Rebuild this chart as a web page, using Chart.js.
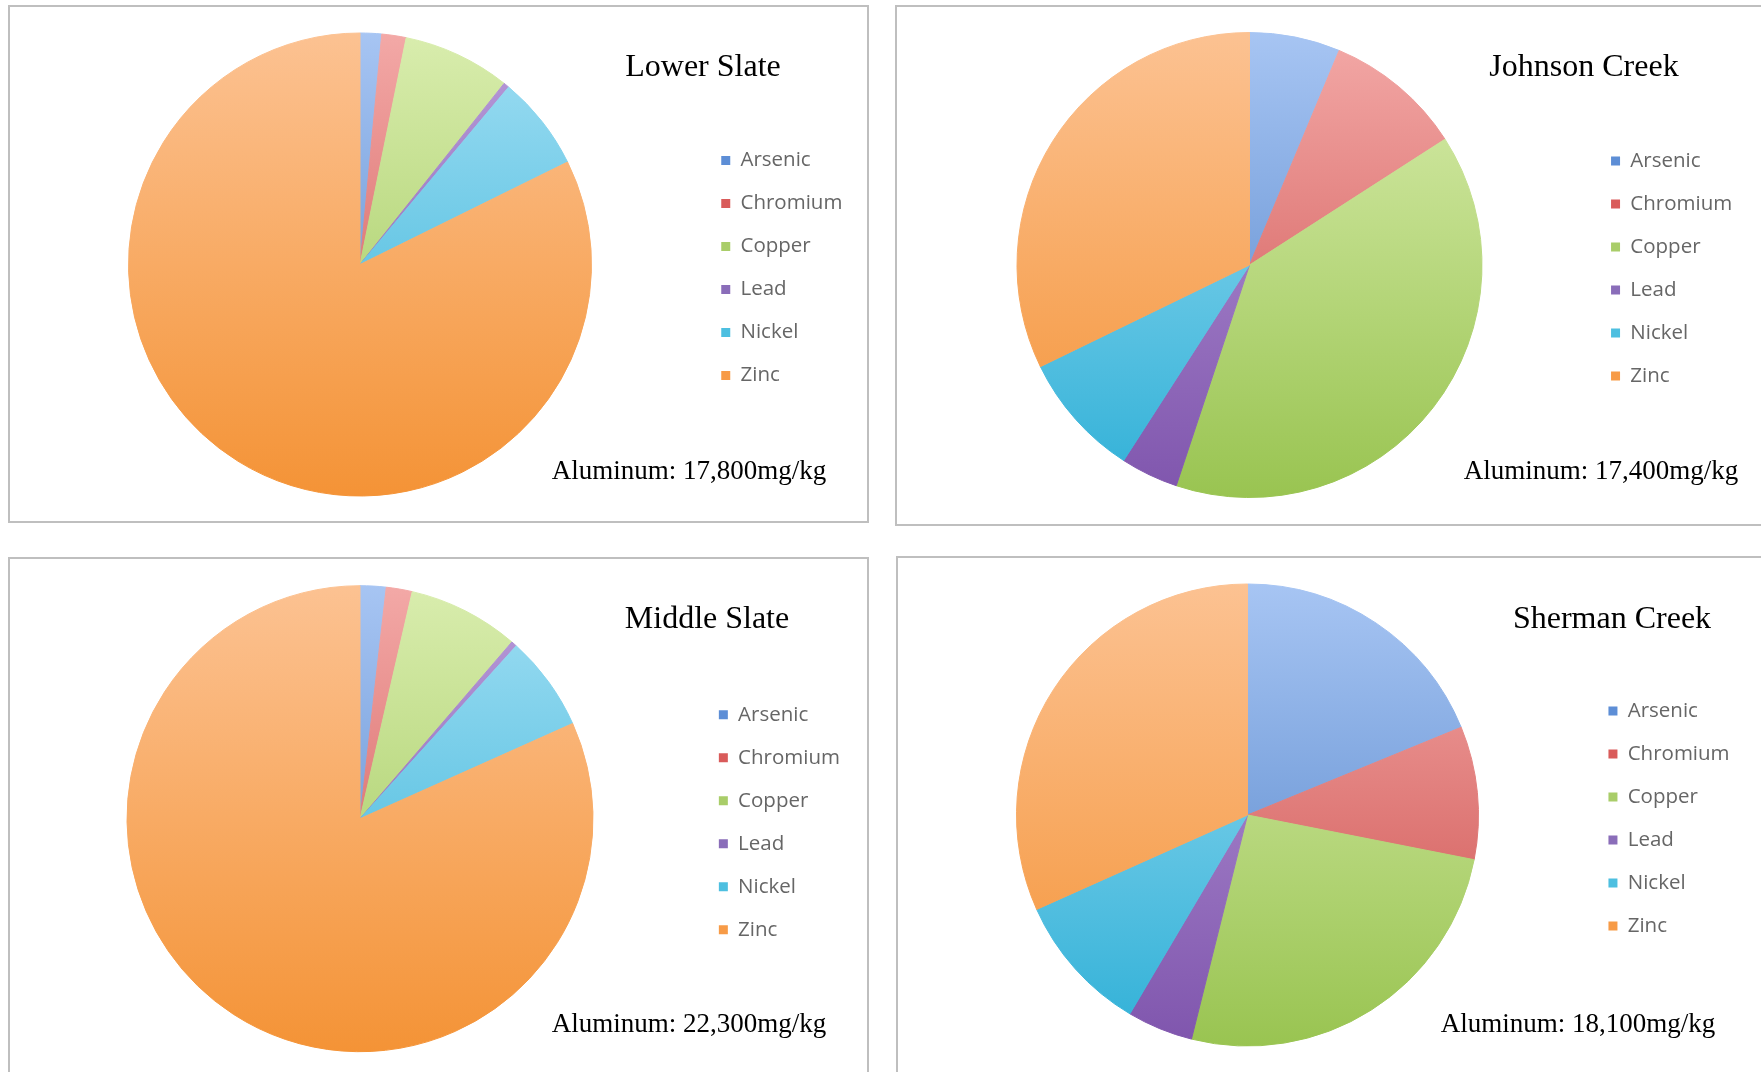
<!DOCTYPE html>
<html>
<head>
<meta charset="utf-8">
<script src="https://cdn.jsdelivr.net/npm/chart.js@4.4.1/dist/chart.umd.min.js"></script>
<style>
  body { margin: 0; background: #fff; width: 1761px; height: 1072px; overflow: hidden; position: relative; }
  .panel { position: absolute; border: 2px solid #bfbfbf; box-sizing: border-box; background: #fff; }
  .panel canvas { position: absolute; left: 0; top: 0; }
</style>
</head>
<body>
<div class="panel" id="p0"><canvas id="c0"></canvas></div>
<div class="panel" id="p1"><canvas id="c1"></canvas></div>
<div class="panel" id="p2"><canvas id="c2"></canvas></div>
<div class="panel" id="p3"><canvas id="c3"></canvas></div>
<script>
// metals measured at each site (share of total, %)
const metals = ["Arsenic", "Chromium", "Copper", "Lead", "Nickel", "Zinc"];
const lowerSlate = [1.5, 1.7, 7.5, 0.4, 6.6, 82.3];
const johnsonCreek = [6.3, 9.6, 39.2, 4.0, 8.7, 32.2];
const middleSlate = [1.8, 1.8, 7.7, 0.4, 6.6, 81.7];
const shermanCreek = [18.8, 9.3, 25.8, 4.6, 9.8, 31.7];

const siteNames = ["Lower Slate", "Johnson Creek", "Middle Slate", "Sherman Creek"];
const aluminum = [17800, 17400, 22300, 18100];
const siteValues = [lowerSlate, johnsonCreek, middleSlate, shermanCreek];

// slice colours: flat (legend), light top / dark bottom for the pie gradient
const flatColors = ["#5d8ed6", "#d95b5a", "#a9cd69", "#8a6db9", "#4dbfe0", "#f79b47"];
const lightColors = ["#a7c5f3", "#f3a9a7", "#d9edae", "#b89bd9", "#a0def3", "#fcc292"];
const darkColors = ["#4d7fc6", "#cc4c4a", "#99c451", "#7f55ad", "#2fb0d7", "#f49336"];

// panel boxes and where the pie / text sit inside each canvas
const layout = [
  { left: 8, top: 5, width: 861, height: 518, w: 857, h: 514, cx: 350, cy: 257.5, r: 232, padRight: 24.6, titleX: 693, titleY: 69, noteX: 679, noteY: 472 },
  { left: 895, top: 5, width: 900, height: 521, w: 866, h: 517, cx: 352.5, cy: 258, r: 233, padRight: 30.8, titleX: 687, titleY: 69, noteX: 704, noteY: 472 },
  { left: 8, top: 557, width: 861, height: 600, w: 857, h: 514, cx: 350, cy: 259.7, r: 233.5, padRight: 27, titleX: 697, titleY: 69, noteX: 679, noteY: 472.6 },
  { left: 896, top: 556, width: 900, height: 600, w: 865, h: 514, cx: 349.5, cy: 257, r: 231.5, padRight: 33.4, titleX: 714, titleY: 70, noteX: 680, noteY: 473.6 }
];

const legendFont = { family: "'Open Sans', sans-serif", size: 20.5 };
const legendPad = 22.5;
const legendBox = 9;
const legendExtra = 10; // chart.js keeps this much room right of the widest label

function legendWidth() {
  let ctx = document.createElement("canvas").getContext("2d");
  ctx.font = legendFont.size + "px " + legendFont.family;
  let widest = 0;
  for (let i = 0; i < metals.length; i++) {
    widest = Math.max(widest, ctx.measureText(metals[i]).width);
  }
  return legendPad + legendBox + legendFont.size / 2 + widest;
}

function sliceFill(c) {
  let area = c.chart.chartArea;
  let i = c.dataIndex;
  if (!area || i === undefined) return flatColors[i || 0];
  let g = c.chart.ctx.createLinearGradient(0, area.top, 0, area.bottom);
  g.addColorStop(0, lightColors[i]);
  g.addColorStop(1, darkColors[i]);
  return g;
}

const siteLabels = {
  id: "siteLabels",
  afterDraw(chart, args, opts) {
    let ctx = chart.ctx;
    ctx.save();
    ctx.fillStyle = "#000";
    ctx.textAlign = "center";
    ctx.textBaseline = "alphabetic";
    ctx.font = "32px 'Liberation Serif', 'Times New Roman', serif";
    ctx.fillText(opts.title, opts.titleX, opts.titleY);
    ctx.font = "27px 'Liberation Serif', 'Times New Roman', serif";
    ctx.fillText(opts.note, opts.noteX, opts.noteY);
    ctx.restore();
  }
};

function drawSite(k) {
  let box = layout[k];
  let panel = document.getElementById("p" + k);
  panel.style.left = box.left + "px";
  panel.style.top = box.top + "px";
  panel.style.width = box.width + "px";
  panel.style.height = box.height + "px";

  let canvas = document.getElementById("c" + k);
  canvas.width = box.w;
  canvas.height = box.h;

  let right = box.w - box.padRight - legendWidth();
  let padLeft = 2 * box.cx - right;

  new Chart(canvas, {
    type: "pie",
    data: {
      labels: metals,
      datasets: [{
        data: siteValues[k],
        backgroundColor: sliceFill,
        borderColor: sliceFill,
        borderWidth: 1,
        hoverOffset: 0
      }]
    },
    options: {
      responsive: false,
      animation: false,
      layout: {
        padding: { left: padLeft, right: box.padRight - legendExtra, top: box.cy - box.r, bottom: box.h - box.cy - box.r }
      },
      plugins: {
        legend: {
          position: "right",
          align: "center",
          title: { display: true, text: "", padding: 0, font: { size: 7, lineHeight: 1 } },
          labels: {
            font: legendFont,
            color: "#262626",
            boxWidth: legendBox,
            boxHeight: legendBox,
            padding: legendPad,
            generateLabels: function (chart) {
              return metals.map(function (m, i) {
                return { text: m, fillStyle: flatColors[i], strokeStyle: flatColors[i], lineWidth: 0, hidden: false, index: i };
              });
            }
          }
        },
        tooltip: { enabled: false },
        siteLabels: {
          title: siteNames[k],
          note: "Aluminum: " + aluminum[k].toLocaleString("en-US") + "mg/kg",
          titleX: box.titleX, titleY: box.titleY,
          noteX: box.noteX, noteY: box.noteY
        }
      }
    },
    plugins: [siteLabels]
  });
}

for (let k = 0; k < 4; k++) {
  drawSite(k);
}
</script>
</body>
</html>
